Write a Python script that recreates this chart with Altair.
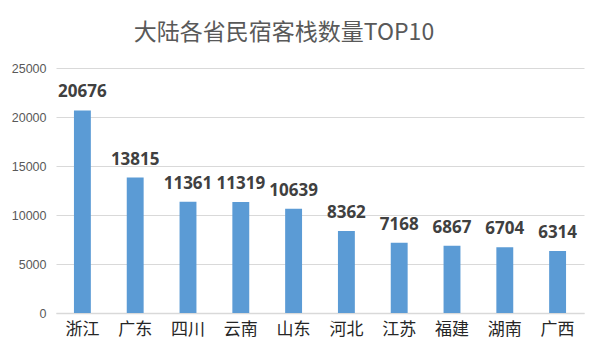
import altair as alt
import pandas as pd

provinces = ["浙江", "广东", "四川", "云南", "山东", "河北", "江苏", "福建", "湖南", "广西"]
counts = [20676, 13815, 11361, 11319, 10639, 8362, 7168, 6867, 6704, 6314]
y_ticks = [0, 5000, 10000, 15000, 20000, 25000]
title_text = "大陆各省民宿客栈数量TOP10"

df = pd.DataFrame({"province": provinces, "count": counts})

cjk = "Noto Sans CJK SC"

x = alt.X("province:N", sort=provinces, title=None,
          scale=alt.Scale(paddingInner=0.68, paddingOuter=0.34),
          axis=alt.Axis(labelAngle=0, labelFont=cjk, labelFontSize=17, labelColor="#262626",
                        labelPadding=8, ticks=False, domain=True, domainColor="#d9d9d9",
                        domainWidth=1.5))
y = alt.Y("count:Q", title=None,
          scale=alt.Scale(domain=[0, 25000], nice=False),
          axis=alt.Axis(values=y_ticks, format="d", labelFont="Liberation Sans", labelFontSize=12.5,
                        labelColor="#595959", labelPadding=10, ticks=False, domain=False,
                        grid=True, gridColor="#d9d9d9", gridWidth=1.2))

bars = alt.Chart(df).mark_bar(color="#5b9bd5").encode(x=x, y=y)
labels = alt.Chart(df).mark_text(font="Open Sans", fontSize=17, fontWeight="bold",
                                 color="#404040", baseline="bottom", dy=-9).encode(
    x=alt.X("province:N", sort=provinces),
    y="count:Q",
    text="count:Q",
)

chart = (bars + labels).properties(
    width=528,
    height=245,
    padding={"left": 48, "top": 60, "right": 8, "bottom": 40},
    autosize=alt.AutoSizeParams(type="none"),
    title=alt.TitleParams(title_text, font=cjk, fontSize=23, fontWeight="normal",
                          color="#595959", anchor="middle", offset=17, dx=-36),
).configure_view(stroke=None)

chart.save("out.html", embed_options={"renderer": "svg", "actions": False})
